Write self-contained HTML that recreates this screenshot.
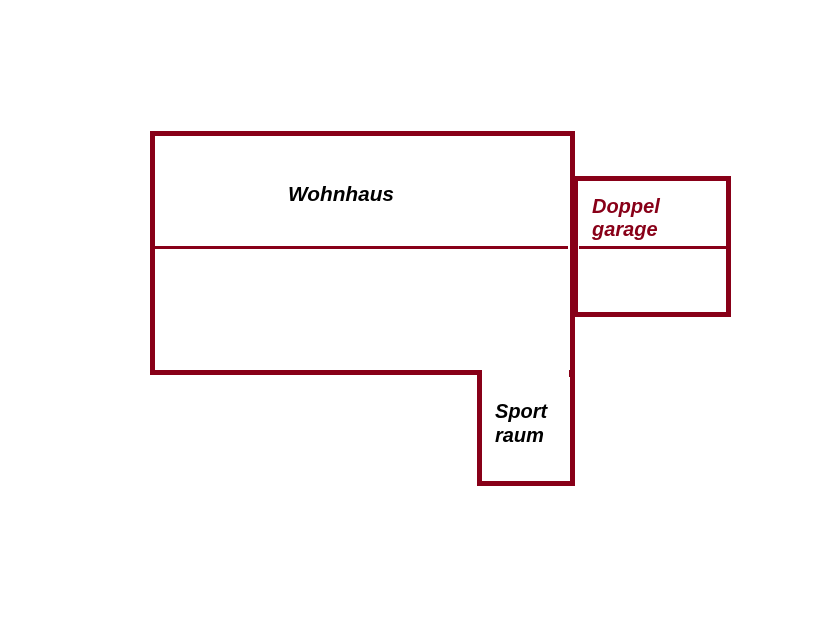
<!DOCTYPE html>
<html><head><meta charset="utf-8"><style>
html,body{margin:0;padding:0;background:#fff;width:838px;height:621px;overflow:hidden}
svg{display:block}
text{font-family:"Liberation Sans",Arial,sans-serif;font-weight:bold;font-style:italic;font-size:20px}
</style></head><body>
<svg width="838" height="621" viewBox="0 0 838 621" xmlns="http://www.w3.org/2000/svg">
<rect width="838" height="621" fill="#fff"/>
<g fill="#880018">
<!-- main outline -->
<rect x="150" y="131" width="425" height="5"/>
<rect x="150" y="131" width="5" height="244"/>
<rect x="150" y="370" width="332" height="5"/>
<rect x="477" y="370" width="5" height="116"/>
<rect x="477" y="481" width="98" height="5"/>
<rect x="570" y="131" width="5" height="355"/>
<rect x="569" y="370" width="2" height="7"/>
<!-- divider -->
<rect x="155" y="246" width="413" height="3"/>
<!-- garage -->
<rect x="573" y="176" width="158" height="5"/>
<rect x="573" y="176" width="5" height="141"/>
<rect x="726" y="176" width="5" height="141"/>
<rect x="573" y="312" width="158" height="5"/>
<rect x="579" y="246" width="147" height="3"/>
</g>
<text x="288" y="201" fill="#000" textLength="106" lengthAdjust="spacingAndGlyphs">Wohnhaus</text>
<text x="592" y="213" fill="#880018">Doppel</text>
<text x="592" y="236" fill="#880018">garage</text>
<text x="495" y="418" fill="#000">Sport</text>
<text x="495" y="442" fill="#000">raum</text>
</svg>
</body></html>
